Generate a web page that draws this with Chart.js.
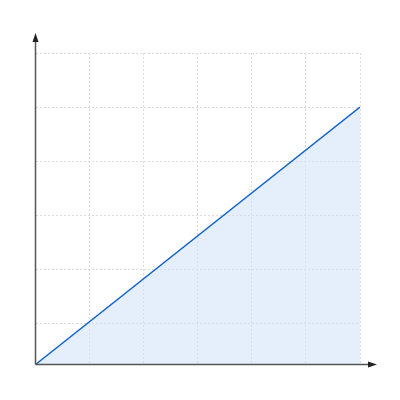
<!DOCTYPE html>
<html>
<head>
<meta charset="utf-8">
<script src="https://cdn.jsdelivr.net/npm/chart.js@4.4.0/dist/chart.umd.min.js"></script>
<style>
  html, body { margin: 0; padding: 0; background: #fff; }
  #wrap { width: 400px; height: 400px; }
</style>
</head>
<body>
<div id="wrap"><canvas id="chart" width="400" height="400"></canvas></div>
<script>
// Data (x in grid cells, y in grid cells)
const xValues = [0, 6];
const yValues = [0, 4.76];
// Grid positions
const xGridTicks = [0, 1, 2, 3, 4, 5, 6];
const yGridTicks = [0.76, 1.76, 2.76, 3.76, 4.76, 5.76];
const yMax = 5.76;

// Axis lines with arrowheads
const arrowAxes = {
  id: 'arrowAxes',
  afterDraw(chart) {
    const ctx = chart.ctx;
    const x = chart.scales.x, y = chart.scales.y;
    const left = x.getPixelForValue(0), bottom = y.getPixelForValue(0);
    ctx.save();
    ctx.strokeStyle = '#555';
    ctx.lineWidth = 1.5;
    ctx.beginPath();
    ctx.moveTo(left, bottom);
    ctx.lineTo(left, 38);
    ctx.moveTo(left, bottom);
    ctx.lineTo(372, bottom);
    ctx.stroke();
    ctx.fillStyle = '#222';
    // up arrow
    ctx.beginPath();
    ctx.moveTo(left, 33);
    ctx.lineTo(left - 3, 42);
    ctx.lineTo(left + 3, 42);
    ctx.closePath();
    ctx.fill();
    // right arrow
    ctx.beginPath();
    ctx.moveTo(377, bottom);
    ctx.lineTo(368, bottom - 3);
    ctx.lineTo(368, bottom + 3);
    ctx.closePath();
    ctx.fill();
    ctx.restore();
  }
};

const points = xValues.map((v, i) => ({ x: v, y: yValues[i] }));

new Chart(document.getElementById('chart'), {
  type: 'scatter',
  data: {
    datasets: [{
      data: points,
      showLine: true,
      borderColor: '#1565c8',
      borderWidth: 1.5,
      backgroundColor: 'rgba(208, 226, 250, 0.55)',
      fill: 'origin',
      pointRadius: 0,
      tension: 0
    }]
  },
  options: {
    responsive: false,
    animation: false,
    layout: { padding: { left: 35.5, top: 53, right: 40, bottom: 35.5 } },
    plugins: { legend: { display: false }, tooltip: { enabled: false } },
    scales: {
      x: {
        type: 'linear',
        min: 0,
        max: 6,
        afterBuildTicks: (s) => { s.ticks = xGridTicks.map(v => ({ value: v })); },
        afterFit: (s) => { s.height = 0; },
        ticks: { display: false },
        grid: { color: '#dcdcdc', lineWidth: 1, drawTicks: false },
        border: { display: false, dash: [2, 2] }
      },
      y: {
        type: 'linear',
        min: 0,
        max: yMax,
        afterBuildTicks: (s) => { s.ticks = yGridTicks.map(v => ({ value: v })); },
        afterFit: (s) => { s.width = 0; },
        ticks: { display: false },
        grid: { color: '#dcdcdc', lineWidth: 1, drawTicks: false },
        border: { display: false, dash: [2, 2] }
      }
    }
  },
  plugins: [arrowAxes]
});
</script>
</body>
</html>
